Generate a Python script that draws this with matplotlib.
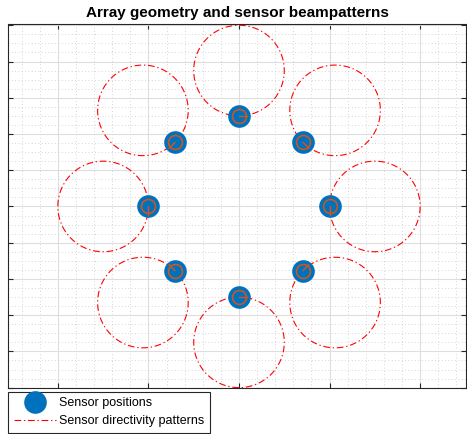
import numpy as np
import matplotlib
matplotlib.use('Agg')
import matplotlib.pyplot as plt
from matplotlib.ticker import MultipleLocator

plt.rcParams['font.family'] = ['Liberation Sans', 'DejaVu Sans']

# uniform circular array, 8 directional sensors
array_radius = 0.05  # m
sensor_angles_deg = [90, 45, 0, 315, 270, 225, 180, 135]
# in-plane orientation of each sensor's axis marker (deg)
axis_angles_deg = [0, 315, 270, 45, 0, 135, 270, 225]
pattern_scale = 0.05  # size of the plotted beampattern

theta = np.deg2rad(sensor_angles_deg)
psi = np.deg2rad(axis_angles_deg)
sx = array_radius * np.cos(theta)
sy = array_radius * np.sin(theta)

fig = plt.figure(figsize=(4.67, 4.34), dpi=100)
ax = fig.add_axes([8/467, 46/434, 458/467, 364/434])

# dipole-like directivity: gain = cos(angle off the look direction), front half only
phi = np.linspace(-np.pi/2, np.pi/2, 361)
gain = np.cos(phi)
pat_lines = []
for k in range(len(theta)):
    px = sx[k] + pattern_scale * gain * np.cos(theta[k] + phi)
    py = sy[k] + pattern_scale * gain * np.sin(theta[k] + phi)
    l, = ax.plot(px, py, color='#ff0000', lw=0.8,
                 linestyle=(0, (6, 2.5, 1.2, 2.5)), zorder=2)
    pat_lines.append(l)

sens = ax.plot(sx, sy, 'o', color='#0072BD', ms=16.3, mec='none', zorder=3,
               linestyle='none')[0]
ax.plot(sx, sy, 'o', mfc='none', mec='#D95319', ms=10, mew=1.1, zorder=4,
        linestyle='none')
# sensor axis marker
h = 0.0045
for k in range(len(theta)):
    ax.plot([sx[k], sx[k] + h*np.cos(psi[k])], [sy[k], sy[k] + h*np.sin(psi[k])],
            color='#D95319', lw=1.0, zorder=4)

ax.set_xlim(-0.1275, 0.1253)
ax.set_ylim(-0.1002, 0.1007)
ax.xaxis.set_major_locator(MultipleLocator(0.05))
ax.yaxis.set_major_locator(MultipleLocator(0.02))
ax.xaxis.set_minor_locator(MultipleLocator(0.01))
ax.yaxis.set_minor_locator(MultipleLocator(0.005))
ax.grid(True, which='major', color='#dedede', lw=0.8, zorder=0)
ax.grid(True, which='minor', color='#c8c8c8', lw=0.6, linestyle=(0, (1, 3)), zorder=0)
ax.set_axisbelow(True)
ax.tick_params(which='major', direction='in', length=3.5, width=0.8, color='#262626',
               top=True, right=True, labelbottom=False, labelleft=False)
ax.tick_params(which='minor', length=0)
for s in ax.spines.values():
    s.set_color('#262626')
    s.set_linewidth(0.8)

ax.set_title('Array geometry and sensor beampatterns', fontsize=11, fontweight='bold',
             pad=5)

leg = fig.legend([sens, pat_lines[0]], ['Sensor positions', 'Sensor directivity patterns'],
                 loc='lower left', bbox_to_anchor=(8/467, 1/434), fontsize=9,
                 frameon=True, fancybox=False, edgecolor='#262626', framealpha=1,
                 handlelength=3.4, handletextpad=0.2, borderpad=0.45, labelspacing=0.5,
                 borderaxespad=0)
leg.get_frame().set_linewidth(0.8)

fig.savefig('out.png', dpi=100)
